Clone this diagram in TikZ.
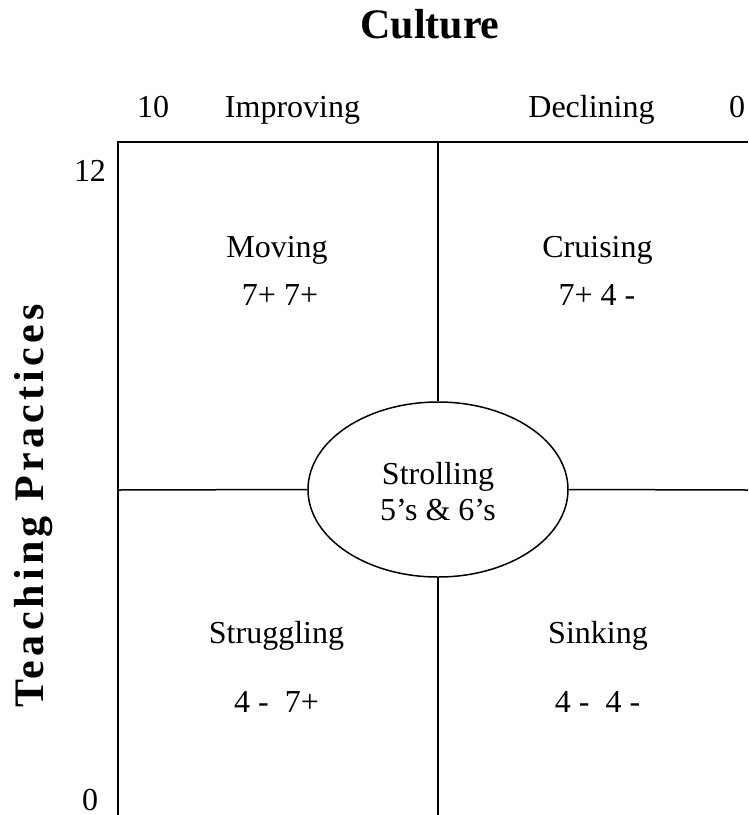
\documentclass[tikz,border=0pt]{standalone}
\usepackage{fontspec}
\setmainfont{Liberation Serif}
\newfontfamily\spacedserif[LetterSpace=10]{Liberation Serif}
\usetikzlibrary{shapes.geometric}
\begin{document}
\begin{tikzpicture}[x=1pt,y=-1pt,
  frame/.style={line width=1.5pt,black},
  lbl/.style={anchor=base,inner sep=0pt,font=\fontsize{32}{36}\selectfont},
  title/.style={anchor=base,inner sep=0pt,font=\fontsize{42}{46}\selectfont\bfseries}]
\useasboundingbox (0,0) rectangle (748,815);
% frame coordinates
\coordinate (tl) at (118,142);
\coordinate (tr) at (748,142);
\coordinate (bl) at (118,815);
\coordinate (tm) at (438,142);
\coordinate (bm) at (438,815);
\coordinate (ml) at (118,490);
\coordinate (mr) at (748,490);
% ellipse
\node[ellipse,draw,line width=1.5pt,minimum width=260pt,minimum height=175pt,inner sep=0pt] (stroll) at (438,489.5) {};
% lines
\draw[frame] (tr) -- (tl) -- (bl);
\draw[frame] (tm) -- (stroll.north);
\draw[frame] (stroll.south) -- (bm);
\draw[frame] (ml) -- (stroll.west);
\draw[frame] (stroll.east) -- (mr);
% titles
\node[title] (culture) at (430,38) {Culture};
\node[anchor=base,inner sep=0pt,rotate=90,font=\fontsize{42}{46}\selectfont\spacedserif\bfseries] (teach) at (43,506) {Teaching Practices};
% axis labels
\node[lbl] (ten) at (153,117) {10};
\node[lbl] (impr) at (292.5,117) {Improving};
\node[lbl] (decl) at (591.5,117) {Declining};
\node[lbl] (zerotop) at (737,117) {0};
\node[lbl] (twelve) at (90,181) {12};
\node[lbl] (zerobot) at (90,810) {0};
% quadrants
\node[lbl] (moving) at (277,257) {Moving};
\node[lbl] (movingv) at (280,305) {7+ 7+};
\node[lbl] (cruising) at (597.5,257) {Cruising};
\node[lbl] (cruisingv) at (597,305) {7+ 4 -};
\node[lbl] (strug) at (276.5,643) {Struggling};
\node[lbl] (strugv) at (276.5,712) {4 -\ \ 7+};
\node[lbl] (sink) at (598,643) {Sinking};
\node[lbl] (sinkv) at (597.5,712) {4 -\ \ 4 -};
\node[lbl] (strolla) at (438,484) {Strolling};
\node[lbl] (strollb) at (438,520) {5’s \& 6’s};
\end{tikzpicture}
\end{document}
